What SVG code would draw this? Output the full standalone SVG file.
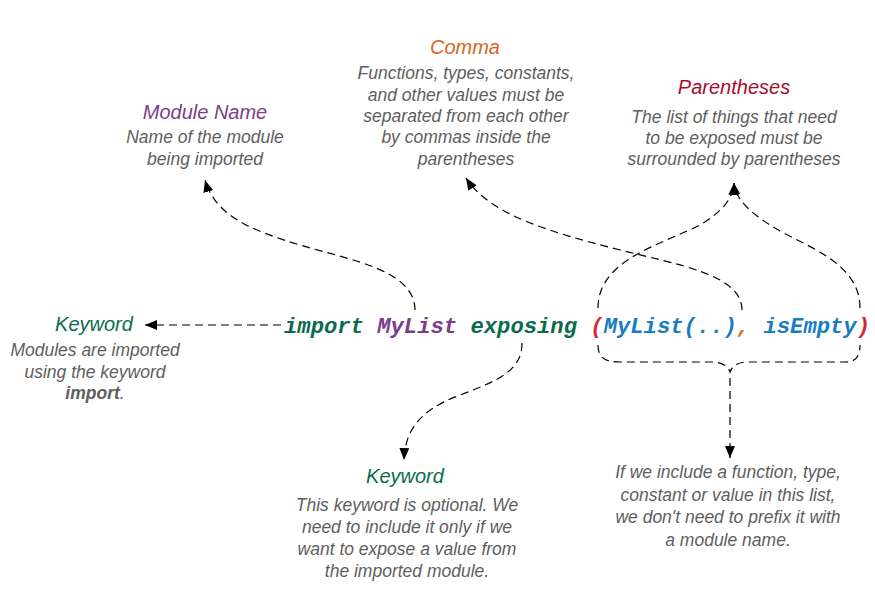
<svg xmlns="http://www.w3.org/2000/svg" width="875" height="616" viewBox="0 0 875 616">
<defs>
<marker id="ah" viewBox="0 0 12 10" refX="12" refY="5" markerWidth="12" markerHeight="10" markerUnits="userSpaceOnUse" orient="auto">
<path d="M0,0 L12,5 L0,10 z" fill="#000"/>
</marker>
<style>
.t{font-family:"Liberation Sans",Arial,sans-serif;font-style:italic;font-size:20px;text-anchor:middle}
.d{font-family:"Liberation Sans",Arial,sans-serif;font-style:italic;font-size:17.5px;fill:#5e5e5e;text-anchor:middle}
.code{font-family:"Liberation Mono","Courier New",monospace;font-weight:bold;font-style:italic;font-size:22.2px}
.c{fill:none;stroke:#000;stroke-width:1.2;stroke-dasharray:8 5}
.a{marker-end:url(#ah)}
</style>
</defs>
<rect width="875" height="616" fill="#fff"/>

<g id="code">
<text class="code" x="284" y="333" xml:space="preserve"><tspan fill="#0a6b4f">import</tspan> <tspan fill="#7d3c8c">MyList</tspan> <tspan fill="#0a6b4f">exposing</tspan> <tspan fill="#d6263a">(</tspan><tspan fill="#1a7dc0">MyList(..)</tspan><tspan fill="#e0701a">,</tspan> <tspan fill="#1a7dc0">isEmpty</tspan><tspan fill="#d6263a">)</tspan></text>
</g>

<g id="keyword-left">
<text class="t" x="94" y="331" fill="#0a6b4f">Keyword</text>
<text class="d" x="95" y="356">Modules are imported</text>
<text class="d" x="95" y="378">using the keyword</text>
<text class="d" x="95" y="399"><tspan font-weight="bold">import</tspan>.</text>
</g>

<g id="module-name">
<text class="t" x="205" y="119" fill="#7d3c8c">Module Name</text>
<text class="d" x="205" y="143">Name of the module</text>
<text class="d" x="205" y="165">being imported</text>
</g>

<g id="comma">
<text class="t" x="465" y="54" fill="#d9661a">Comma</text>
<text class="d" x="466" y="79">Functions, types, constants,</text>
<text class="d" x="466" y="101">and other values must be</text>
<text class="d" x="466" y="122">separated from each other</text>
<text class="d" x="466" y="143">by commas inside the</text>
<text class="d" x="466" y="165">parentheses</text>
</g>

<g id="parentheses">
<text class="t" x="734" y="94" fill="#a50e2d">Parentheses</text>
<text class="d" x="734" y="123">The list of things that need</text>
<text class="d" x="734" y="144">to be exposed must be</text>
<text class="d" x="734" y="165">surrounded by parentheses</text>
</g>

<g id="keyword-bottom">
<text class="t" x="405" y="483" fill="#0a6b4f">Keyword</text>
<text class="d" x="407" y="511">This keyword is optional. We</text>
<text class="d" x="407" y="533">need to include it only if we</text>
<text class="d" x="407" y="555">want to expose a value from</text>
<text class="d" x="407" y="577">the imported module.</text>
</g>

<g id="list-note">
<text class="d" x="728" y="478">If we include a function, type,</text>
<text class="d" x="728" y="501">constant or value in this list,</text>
<text class="d" x="728" y="523">we don't need to prefix it with</text>
<text class="d" x="728" y="546">a module name.</text>
</g>

<g id="connectors">
<path class="c a" d="M281,325 L145,325"/>
<path class="c a" d="M415,310 C415,270 350,260 300,245 C250,230 215,215 205,180"/>
<path class="c a" d="M742,310 C742,275 680,265 620,250 C550,232 490,215 466,178"/>
<path class="c a" d="M598,308 C598,260 660,245 700,225 C720,213 733,200 734,183"/>
<path class="c a" d="M860,308 C860,260 800,245 770,225 C750,212 736,200 734,183"/>
<path class="c" d="M598,345 C598,358 605,362 620,362 L712,362 C722,362 728,366 730,372 C732,366 738,362 748,362 L845,362 C855,362 860,358 860,345"/>
<path class="c a" d="M730,378 L730,458"/>
<path class="c a" d="M522,343 C522,370 500,380 460,395 C420,410 405,430 404,460"/>
</g>
</svg>
